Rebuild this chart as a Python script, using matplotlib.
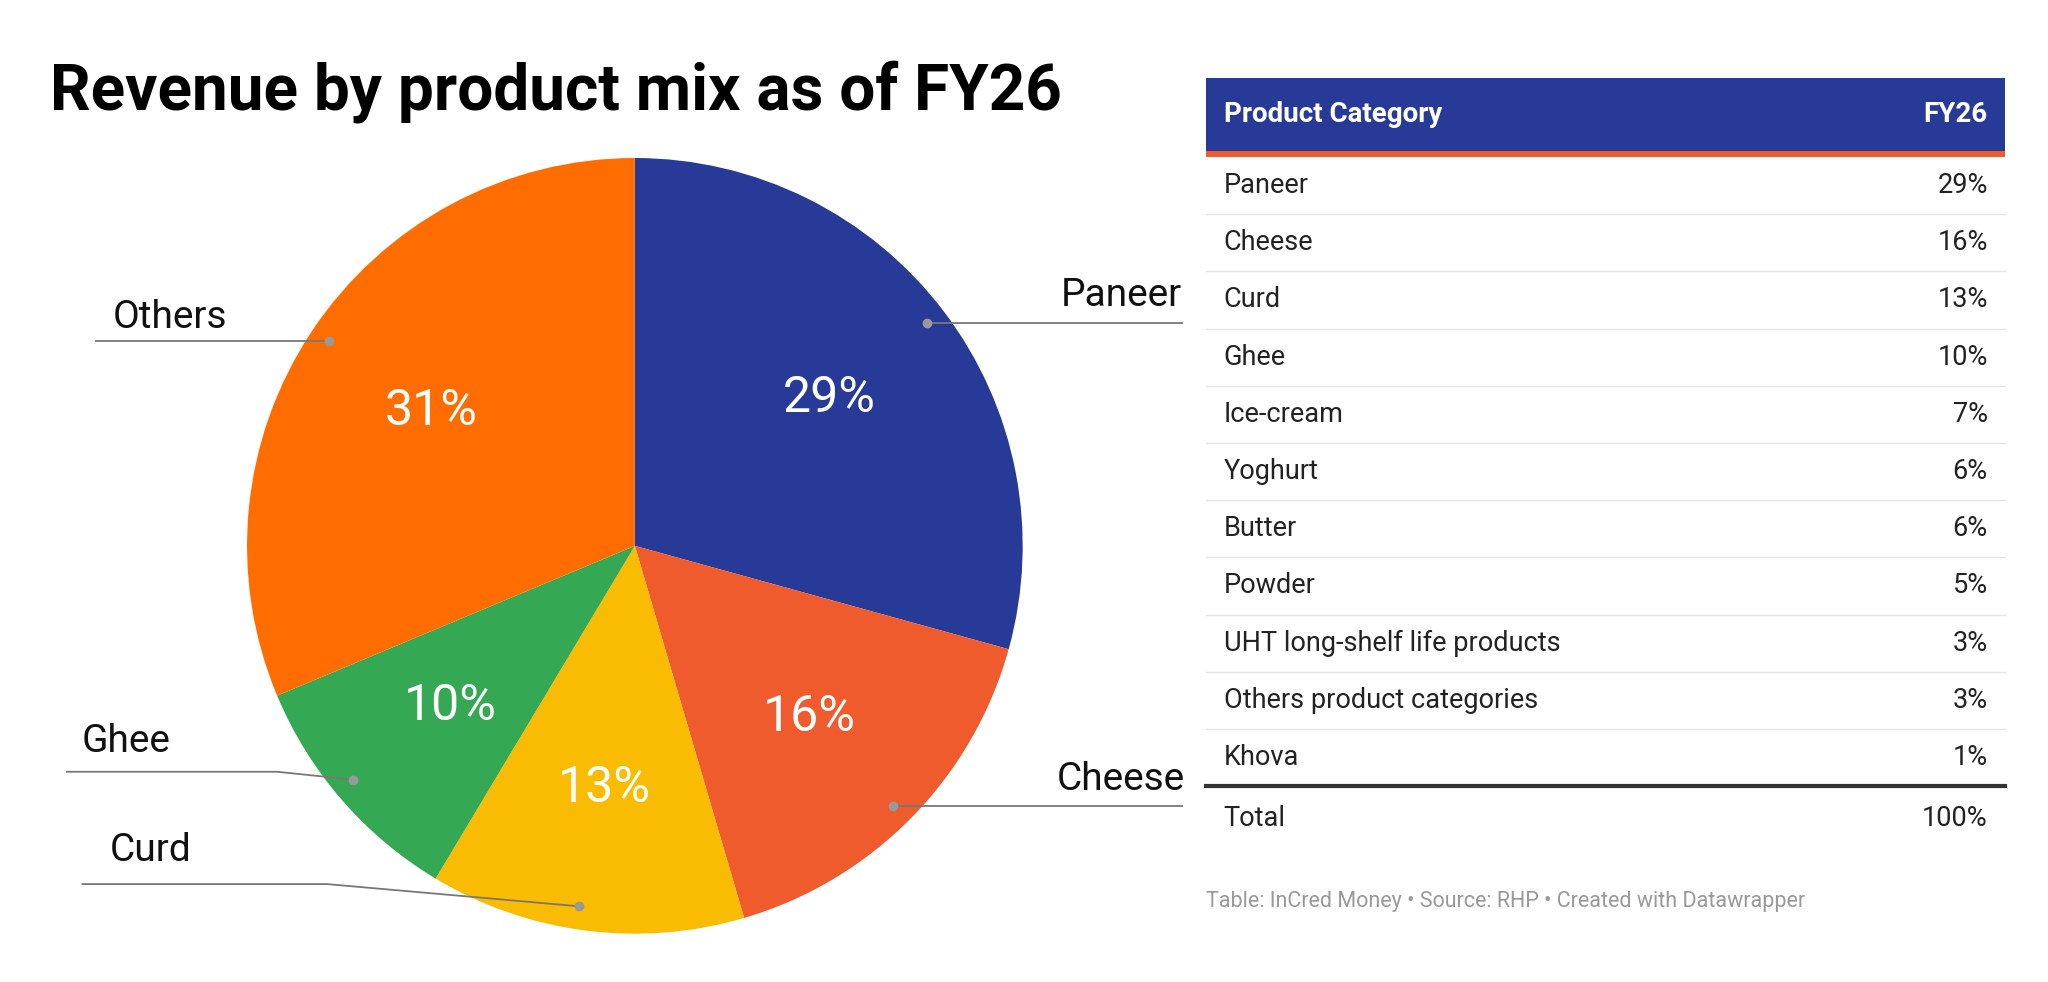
import matplotlib.pyplot as plt

plt.rcParams['font.family'] = ['Roboto', 'DejaVu Sans']

# pie data
pie_labels = ['Paneer', 'Cheese', 'Curd', 'Ghee', 'Others']
pie_values = [29, 16, 13, 10, 31]
pie_colors = ['#283A97', '#EF5B2D', '#F9BC02', '#35A853', '#FF6D00']

# table data
cats = ['Paneer', 'Cheese', 'Curd', 'Ghee', 'Ice-cream', 'Yoghurt', 'Butter',
        'Powder', 'UHT long-shelf life products', 'Others product categories', 'Khova']
shares = [29, 16, 13, 10, 7, 6, 6, 5, 3, 3, 1]
total = 100

W, H = 1568, 752
fig = plt.figure(figsize=(20.48, 9.82), dpi=100)
ax = fig.add_axes([0, 0, 1, 1])

def Y(y):
    return H - y

ax.text(38, Y(70), 'Revenue by product mix as of FY26', fontsize=46,
        fontweight='bold', va='center', ha='left')

wedges, texts, autotexts = ax.pie(
    pie_values, colors=pie_colors, startangle=90, counterclock=False,
    center=(486, Y(418)), radius=297, autopct='%d%%', pctdistance=0.63,
    textprops=dict(color='white', fontsize=36), frame=True)
ax.set_xlim(0, W)
ax.set_ylim(0, H)
ax.set_aspect('equal')
ax.axis('off')

# outer labels with leader lines (display coords)
leaders = [
    ('Paneer', [(710, 247), (905, 247)], (905, 226), 'right'),
    ('Cheese', [(684, 617), (905, 617)], (907, 597), 'right'),
    ('Curd', [(443, 694), (250, 677), (63, 677)], (84, 651), 'left'),
    ('Ghee', [(270, 597), (212, 591), (51, 591)], (62, 568), 'left'),
    ('Others', [(252, 261), (73, 261)], (86, 243), 'left'),
]
for name, pts, tpos, ha in leaders:
    xs = [p[0] for p in pts]
    ys = [Y(p[1]) for p in pts]
    ax.plot(xs, ys, color='#777777', lw=1.3)
    ax.plot(xs[0], ys[0], 'o', color='#999999', ms=6)
    ax.text(tpos[0], Y(tpos[1]), name, fontsize=28, ha=ha, va='center', color='#111111')

# table
x0, x1 = 923, 1535
ax.add_patch(plt.Rectangle((x0, Y(116)), x1 - x0, 56, color='#283A97', lw=0))
ax.add_patch(plt.Rectangle((x0, Y(120)), x1 - x0, 4, color='#EF5B2D', lw=0))
ax.text(937, Y(88), 'Product Category', color='white', fontsize=20, fontweight='bold', va='center')
ax.text(1522, Y(88), 'FY26', color='white', fontsize=20, fontweight='bold', va='center', ha='right')
for i, (c, s) in enumerate(zip(cats, shares)):
    yc = 142 + i * 43.8
    ax.text(937, Y(yc), c, fontsize=19.5, va='center', color='#222222')
    ax.text(1522, Y(yc), f'{s}%', fontsize=19.5, va='center', ha='right', color='#222222')
    if i < len(cats) - 1:
        ax.plot([x0, x1], [Y(yc + 22)] * 2, color='#E4E4E4', lw=1)
ax.plot([x0, x1], [Y(602)] * 2, color='#333333', lw=3)
ax.text(937, Y(627), 'Total', fontsize=19.5, va='center', color='#222222')
ax.text(1522, Y(627), f'{total}%', fontsize=19.5, va='center', ha='right', color='#222222')
ax.text(923, Y(690), 'Table: InCred Money • Source: RHP • Created with Datawrapper',
        fontsize=15.5, va='center', color='#999999')

fig.savefig('out.png', dpi=100, facecolor='white')
